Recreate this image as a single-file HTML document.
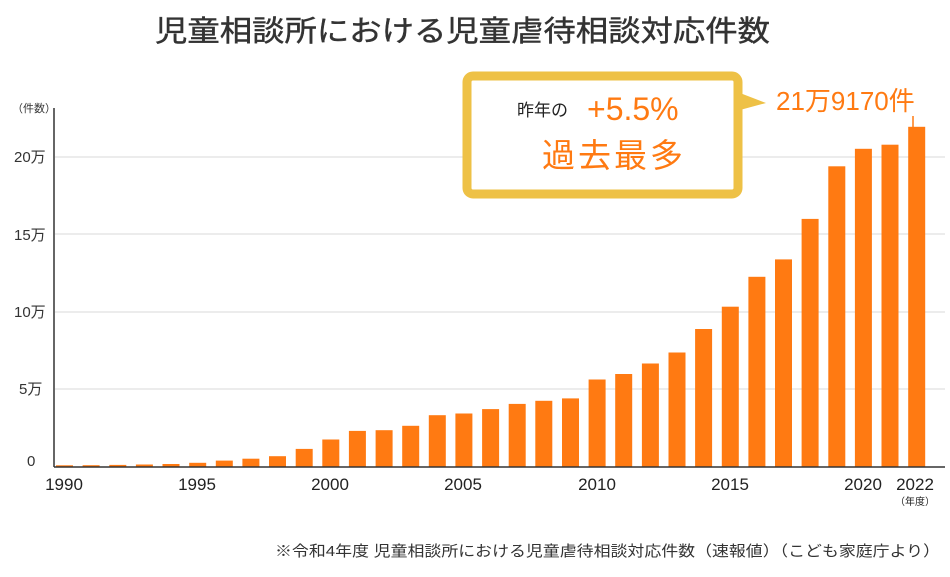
<!DOCTYPE html>
<html><head><meta charset="utf-8"><style>
body{margin:0;background:#fff;width:950px;height:572px;overflow:hidden;font-family:"Liberation Sans","Noto Sans CJK JP",sans-serif;}
</style></head><body>
<svg width="950" height="572" xmlns="http://www.w3.org/2000/svg" font-family="Liberation Sans, Noto Sans CJK JP, sans-serif">
<text x="155" y="41" textLength="615" lengthAdjust="spacingAndGlyphs" font-size="29" fill="#333" stroke="#333" stroke-width="0.4">児童相談所における児童虐待相談対応件数</text>
<g stroke="#e6e6e6" stroke-width="1.5">
<line x1="55" y1="157" x2="945" y2="157"/><line x1="55" y1="234" x2="945" y2="234"/>
<line x1="55" y1="312" x2="945" y2="312"/><line x1="55" y1="389" x2="945" y2="389"/>
</g>
<g font-size="15" fill="#333">
<text x="12" y="112" font-size="11">（件数）</text>
<text x="14" y="162">20万</text><text x="14" y="240">15万</text><text x="14" y="317">10万</text><text x="19" y="394">5万</text><text x="27" y="466">0</text>
</g>
<g id="bars" fill="#FF7A12"></g>
<line x1="54" y1="108" x2="54" y2="467" stroke="#333" stroke-width="1.5"/>
<line x1="54" y1="467" x2="945" y2="467" stroke="#333" stroke-width="1.5"/>
<g font-size="17" fill="#222" text-anchor="middle">
<text x="64" y="490">1990</text><text x="197" y="490">1995</text><text x="330" y="490">2000</text><text x="463" y="490">2005</text><text x="597" y="490">2010</text><text x="730" y="490">2015</text><text x="863" y="490">2020</text><text x="915" y="490">2022</text>
<text x="915" y="505" font-size="10">（年度）</text>
</g>
<rect x="467" y="76" width="271" height="118" rx="6" fill="#fff" stroke="#EEC146" stroke-width="9"/>
<polygon points="740,93 766,103 740,110" fill="#EEC146"/>
<text x="517" y="116" font-size="17" fill="#222">昨年の</text>
<text x="587" y="120" font-size="32" fill="#FF7A12">+5.5%</text>
<text x="542" y="167" font-size="33" fill="#FF7A12" letter-spacing="3">過去最多</text>
<text x="776" y="110" font-size="26" fill="#FF7A12">21万9170件</text>
<line x1="913" y1="116" x2="913" y2="127" stroke="#FF7A12" stroke-width="1.5"/>
<text x="275" y="556" textLength="665" lengthAdjust="spacingAndGlyphs" font-size="15" fill="#333">※令和4年度 児童相談所における児童虐待相談対応件数（速報値）（こども家庭庁より）</text>
</svg>
<script>
var d=[1101,1171,1372,1611,1961,2722,4102,5352,6932,11631,17725,23274,23738,26569,33408,34472,37323,40639,42664,44211,56384,59919,66701,73802,88931,103286,122575,133778,159838,193780,205044,207660,219170];
var g=document.getElementById('bars'),s='';
d.forEach(function(v,i){var h=v/1e4*15.52;var x=56+i*26.63;s+='<rect x="'+x.toFixed(1)+'" y="'+(467-h).toFixed(1)+'" width="17" height="'+h.toFixed(1)+'"/>';});
g.innerHTML=s;
</script>
</body></html>
